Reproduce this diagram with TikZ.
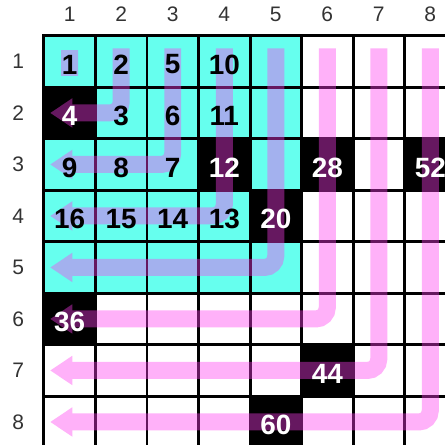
\documentclass[tikz,border=0pt]{standalone}
\usepackage{fontspec}
\setmainfont{Liberation Sans}
\usepackage{tikz}
\usetikzlibrary{arrows.meta}
\usepackage{xcolor}
\definecolor{aqua}{RGB}{102,255,238}
\definecolor{bandpink}{RGB}{255,60,240}

\begin{document}
\begin{tikzpicture}[
        cell/.style={draw, line width=1.65pt, minimum size=1cm, inner sep=0pt, fill=white},
        hot/.style={cell, fill=aqua},
        band/.style={line width=3.3mm, draw=bandpink, rounded corners=2.2mm},
        lead/.style={band, -{Triangle[length=4.3mm, width=5.4mm]}},
        num/.style={font=\fontsize{15.4}{16}\selectfont\bfseries, text=black},
        numw/.style={num, text=white},
        axis/.style={font=\fontsize{11.6}{12}\selectfont, text=black!80},
        sq 2-1/.style={fill=black}, sq 3-4/.style={fill=black},
        sq 4-5/.style={fill=black}, sq 3-6/.style={fill=black},
        sq 3-8/.style={fill=black}, sq 6-1/.style={fill=black},
        sq 7-6/.style={fill=black}, sq 8-5/.style={fill=black}
    ]
    \clip (-0.354,-8.447) rectangle (8.286,0.193);

    % squares
    \foreach \r in {1,...,8} {
        \foreach \c in {1,...,8} {
            \def\kind{cell}
            \ifnum\r<6 \ifnum\c<6 \def\kind{hot}\fi\fi
            \node[\kind, sq \r-\c/.try] (cell-\r-\c) at (\c,-\r) {};
        }
    }

    % axis labels
    \foreach \i in {1,...,8} {
        \node[axis] (top-\i) at (\i,-0.083) {\i};
        \node[axis] (side-\i) at (0,-\i) {\i};
    }

    % order of the layers
    \begin{scope}[transparency group, opacity=0.4]
        \draw[band] ([yshift=2.2mm]cell-1-1.center) -- ([yshift=-2.8mm]cell-1-1.center);
        \foreach \k in {2,...,8} {
            \draw[lead] ([yshift=2.55mm]cell-1-\k.center) |- ([xshift=-3.8mm]cell-\k-1.center);
        }
    \end{scope}

    \node[num] (n1) at ([yshift=-0.6mm]cell-1-1.center) {1};
    \node[num] (n2) at ([yshift=-0.6mm]cell-1-2.center) {2};
    \node[num] (n5) at ([yshift=-0.6mm]cell-1-3.center) {5};
    \node[num] (n10) at ([yshift=-0.6mm]cell-1-4.center) {10};
    \node[numw] (n4) at ([yshift=-0.6mm]cell-2-1.center) {4};
    \node[num] (n3) at ([yshift=-0.6mm]cell-2-2.center) {3};
    \node[num] (n6) at ([yshift=-0.6mm]cell-2-3.center) {6};
    \node[num] (n11) at ([yshift=-0.6mm]cell-2-4.center) {11};
    \node[num] (n9) at ([yshift=-0.6mm]cell-3-1.center) {9};
    \node[num] (n8) at ([yshift=-0.6mm]cell-3-2.center) {8};
    \node[num] (n7) at ([yshift=-0.6mm]cell-3-3.center) {7};
    \node[numw] (n12) at ([yshift=-0.6mm]cell-3-4.center) {12};
    \node[numw] (n28) at ([yshift=-0.6mm]cell-3-6.center) {28};
    \node[numw] (n52) at ([yshift=-0.6mm]cell-3-8.center) {52};
    \node[num] (n16) at ([yshift=-0.6mm]cell-4-1.center) {16};
    \node[num] (n15) at ([yshift=-0.6mm]cell-4-2.center) {15};
    \node[num] (n14) at ([yshift=-0.6mm]cell-4-3.center) {14};
    \node[num] (n13) at ([yshift=-0.6mm]cell-4-4.center) {13};
    \node[numw] (n20) at ([yshift=-0.6mm]cell-4-5.center) {20};
    \node[numw] (n36) at ([yshift=-0.6mm]cell-6-1.center) {36};
    \node[numw] (n44) at ([yshift=-0.6mm]cell-7-6.center) {44};
    \node[numw] (n60) at ([yshift=-0.6mm]cell-8-5.center) {60};
\end{tikzpicture}
\end{document}
